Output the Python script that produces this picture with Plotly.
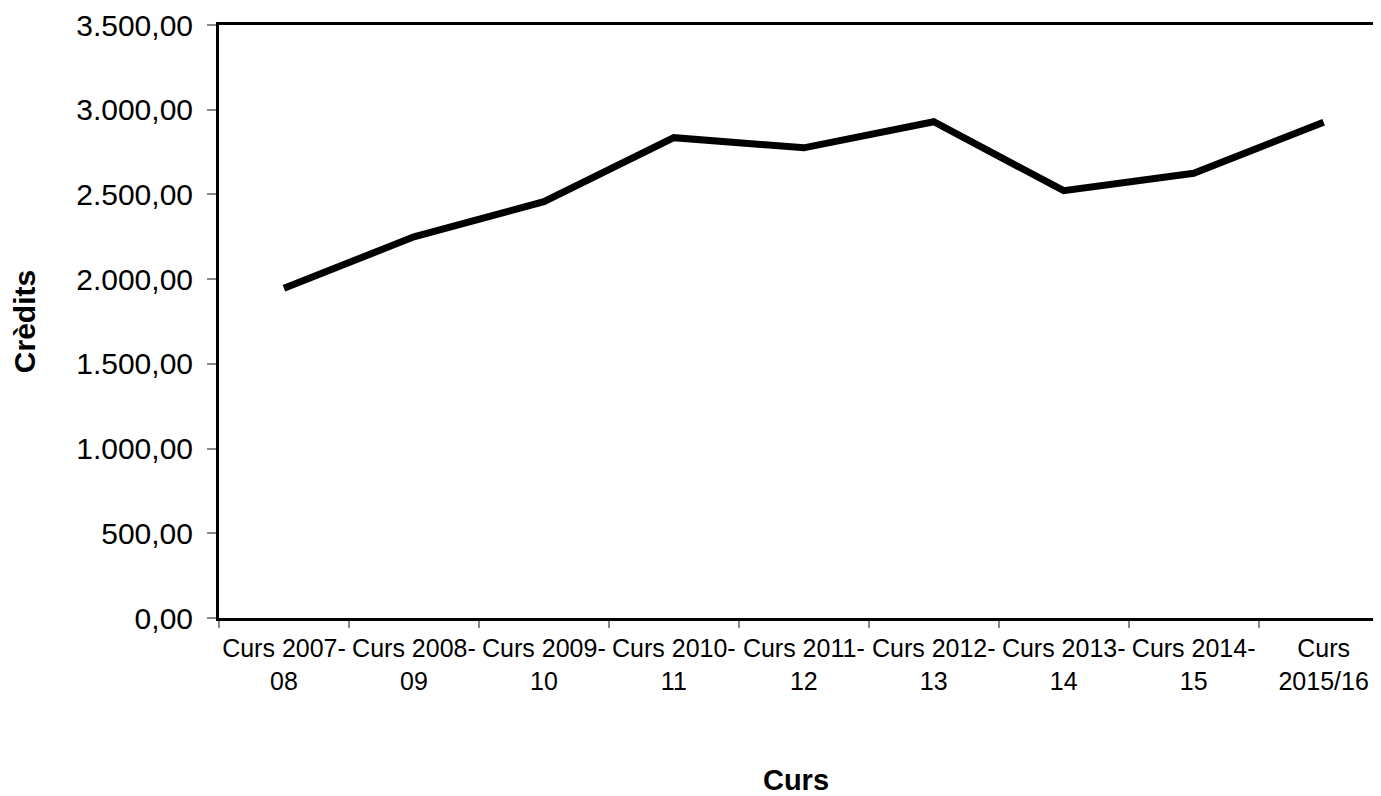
import plotly.graph_objects as go

categories = ["Curs 2007-<br>08", "Curs 2008-<br>09", "Curs 2009-<br>10", "Curs 2010-<br>11",
              "Curs 2011-<br>12", "Curs 2012-<br>13", "Curs 2013-<br>14", "Curs 2014-<br>15",
              "Curs<br>2015/16"]
credits = [1946, 2250, 2457, 2835, 2775, 2929, 2522, 2625, 2926]
y_ticks = [0, 500, 1000, 1500, 2000, 2500, 3000, 3500]

fig = go.Figure()
fig.add_trace(go.Scatter(x=categories, y=credits, mode="lines",
                         line=dict(color="black", width=7)))

fig.update_layout(
    width=1365, height=796,
    margin=dict(l=211, r=0, t=17, b=186),
    paper_bgcolor="white", plot_bgcolor="white",
    separators=",.",
    showlegend=False,
    font=dict(family="Liberation Sans, Arial, sans-serif", color="black"),
)
fig.update_xaxes(
    type="category", range=[-0.5, len(categories) - 0.62],
    tickson="boundaries", ticks="outside", ticklen=7, tickangle=0,
    tickcolor="#888888", tickwidth=2, ticklabelstandoff=6,
    showline=True, linecolor="black", linewidth=3, mirror=True,
    showgrid=False, tickfont=dict(size=25), automargin=False,
    title=dict(text="<b>Curs</b>", font=dict(size=29), standoff=77),
)
fig.update_yaxes(
    range=[0, 3500], tickvals=y_ticks, tickformat=",.2f",
    ticks="outside", ticklen=9, tickcolor="#888888", tickwidth=2,
    ticklabelstandoff=8,
    showline=True, linecolor="black", linewidth=3, mirror=False,
    showgrid=False, zeroline=False, tickfont=dict(size=30), automargin=False,
    title=dict(text="<b>Crèdits</b>", font=dict(size=30), standoff=33),
)

fig.write_html("out.html")
